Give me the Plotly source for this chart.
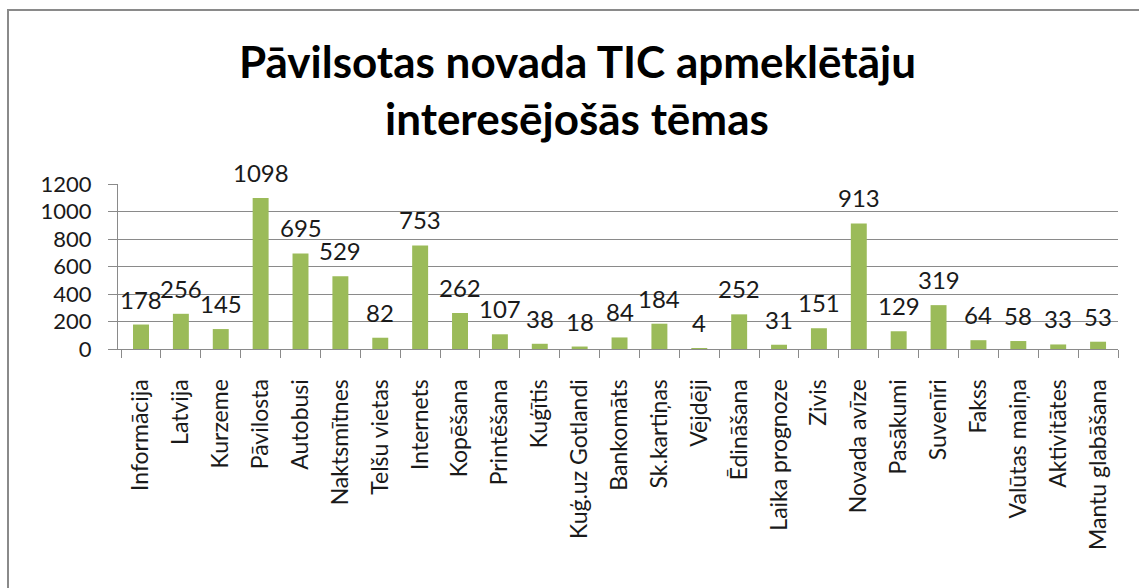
import plotly.graph_objects as go

categories = ["Informācija", "Latvija", "Kurzeme", "Pāvilosta", "Autobusi", "Naktsmītnes",
              "Telšu vietas", "Internets", "Kopēšana", "Printēšana", "Kuģītis",
              "Kuģ.uz Gotlandi", "Bankomāts", "Sk.kartiņas", "Vējdēji", "Ēdināšana",
              "Laika prognoze", "Zivis", "Novada avīze", "Pasākumi", "Suvenīri", "Fakss",
              "Valūtas maiņa", "Aktivitātes", "Mantu glabāšana"]
values = [178, 256, 145, 1098, 695, 529, 82, 753, 262, 107, 38, 18, 84, 184, 4, 252,
          31, 151, 913, 129, 319, 64, 58, 33, 53]
y_ticks = [0, 200, 400, 600, 800, 1000, 1200]
title_lines = ["Pāvilsotas novada TIC apmeklētāju", "interesējošās tēmas"]

FONT = "Lato, 'Open Sans', sans-serif"

W, H = 1139, 588
L, R, T, B = 118, 21, 184, 239
pw, ph = W - L - R, H - T - B


def px_to_paper_x(px):
    return (px - L) / pw


def px_to_paper_y(py):
    return (H - B - py) / ph


fig = go.Figure()
fig.add_trace(go.Bar(x=categories, y=values, marker=dict(color="#9BBB59", line=dict(width=0)),
                     hoverinfo="x+y"))

annotations = []
for c, v in zip(categories, values):
    annotations.append(dict(x=c, y=v, xref="x", yref="y", text=str(v), showarrow=False,
                            yanchor="bottom", yshift=9,
                            font=dict(family=FONT, size=24, color="#1a1a1a")))

for line, yc in zip(title_lines, [61, 118]):
    annotations.append(dict(x=px_to_paper_x(577), y=px_to_paper_y(yc), xref="paper", yref="paper",
                            text="<b>" + line + "</b>", showarrow=False,
                            xanchor="center", yanchor="middle",
                            font=dict(family=FONT, size=44, color="#000000")))

fig.update_layout(
    width=W, height=H,
    margin=dict(l=L, r=R, t=T, b=B),
    paper_bgcolor="white", plot_bgcolor="white",
    bargap=0.6,
    showlegend=False,
    annotations=annotations,
    font=dict(family=FONT, color="#1a1a1a"),
    shapes=[dict(type="rect", xref="paper", yref="paper",
                 x0=px_to_paper_x(8), x1=px_to_paper_x(1160),
                 y0=px_to_paper_y(640), y1=px_to_paper_y(10),
                 line=dict(color="#8a8a8a", width=2), fillcolor="rgba(0,0,0,0)", layer="below")],
    xaxis=dict(
        type="category", tickangle=-90, tickfont=dict(family=FONT, size=23, color="#1a1a1a"),
        showline=True, linecolor="#8a8a8a", linewidth=1,
        ticks="outside", ticklen=8, tickcolor="#8a8a8a", tickson="boundaries",
        showgrid=False, ticklabelstandoff=20,
    ),
    yaxis=dict(
        range=[0, 1200], tickvals=y_ticks, tickfont=dict(family=FONT, size=22, color="#1a1a1a"),
        showline=True, linecolor="#8a8a8a", linewidth=1,
        ticks="outside", ticklen=9, tickcolor="#8a8a8a",
        showgrid=True, gridcolor="#8a8a8a", gridwidth=1, zeroline=False,
        ticklabelstandoff=12,
    ),
)

fig.write_html("out.html")
